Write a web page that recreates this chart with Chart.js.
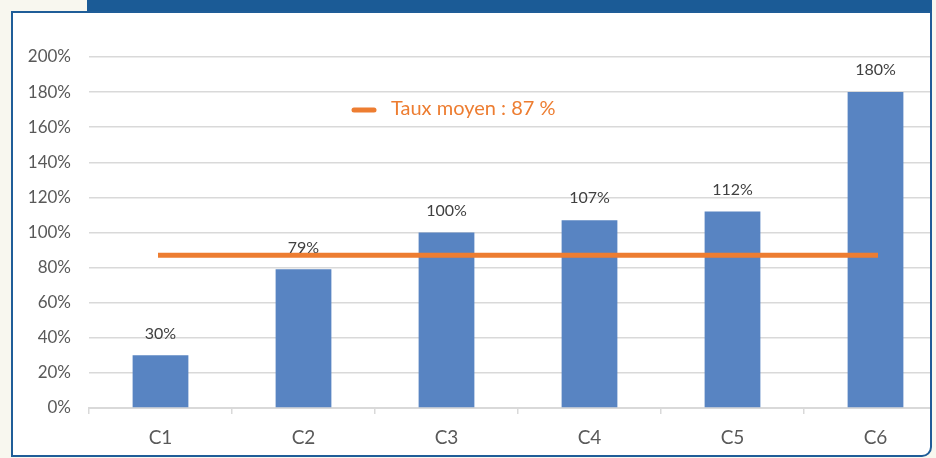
<!DOCTYPE html>
<html>
<head>
<meta charset="utf-8">
<script src="https://cdn.jsdelivr.net/npm/chart.js@4/dist/chart.umd.min.js"></script>
<style>
  html, body { margin: 0; padding: 0; width: 936px; height: 458px; overflow: hidden; background: #f8f7ef; }
  .band { position: absolute; left: 87px; top: 0; width: 845px; height: 13px; background: #1b5b96; }
  .frame {
    position: absolute; left: 11px; top: 11px; width: 917px; height: 442px;
    border: 2px solid #1f5d98; border-bottom-right-radius: 10px;
    background: #fff; overflow: hidden;
  }
  .frame canvas { position: absolute; left: -13px; top: -13px; }
</style>
</head>
<body>
<div class="band"></div>
<div class="frame">
  <canvas id="chart" width="980" height="470"></canvas>
</div>
<script>
// data
const categories = ['C1', 'C2', 'C3', 'C4', 'C5', 'C6'];
const rates = [30, 79, 100, 107, 112, 180];
const averageRate = [87, 87, 87, 87, 87, 87];
const averageLabel = 'Taux moyen : 87 %';
const yTicks = [0, 20, 40, 60, 80, 100, 120, 140, 160, 180, 200];

const FONT = 'Lato, "Open Sans", sans-serif';

// value labels above the bars
const barLabels = {
  id: 'barLabels',
  afterDatasetsDraw(chart) {
    const ctx = chart.ctx;
    const meta = chart.getDatasetMeta(0);
    ctx.save();
    ctx.font = '16px ' + FONT;
    ctx.fillStyle = '#404040';
    ctx.textAlign = 'center';
    ctx.textBaseline = 'middle';
    meta.data.forEach((bar, i) => {
      ctx.fillText(rates[i] + '%', bar.x, bar.y - 22);
    });
    ctx.restore();
  }
};

// legend for the average line, inside the plot
const avgLegend = {
  id: 'avgLegend',
  afterDraw(chart) {
    const ctx = chart.ctx;
    const ds = chart.data.datasets[1];
    ctx.save();
    ctx.strokeStyle = ds.borderColor;
    ctx.lineWidth = 5;
    ctx.lineCap = 'round';
    ctx.beginPath();
    ctx.moveTo(354, 110);
    ctx.lineTo(374, 110);
    ctx.stroke();
    ctx.font = '20px ' + FONT;
    ctx.fillStyle = ds.borderColor;
    ctx.textBaseline = 'middle';
    ctx.fillText(ds.label, 391, 109);
    ctx.restore();
  }
};

new Chart(document.getElementById('chart'), {
  type: 'bar',
  data: {
    labels: categories,
    datasets: [
      {
        label: 'Taux',
        data: rates,
        backgroundColor: '#5884c2',
        categoryPercentage: 1,
        barPercentage: 0.39,
        order: 2
      },
      {
        type: 'line',
        label: averageLabel,
        data: averageRate,
        borderColor: '#ed7d31',
        borderWidth: 5,
        pointRadius: 0,
        borderCapStyle: 'square',
        order: 1
      }
    ]
  },
  options: {
    responsive: false,
    animation: false,
    layout: { padding: { left: 0, right: 33, top: 57, bottom: 0 } },
    plugins: {
      legend: { display: false },
      tooltip: { enabled: false }
    },
    scales: {
      x: {
        afterFit(scale) { scale.height = 62; },
        grid: { drawOnChartArea: false, drawTicks: true, tickLength: 6, color: '#d9d9d9', lineWidth: 1.5 },
        border: { color: '#d9d9d9', width: 2 },
        ticks: { color: '#595959', font: { family: FONT, size: 19 }, padding: 12 }
      },
      y: {
        min: 0,
        max: 200,
        afterFit(scale) { scale.width = 89; },
        afterBuildTicks(scale) { scale.ticks = yTicks.map(v => ({ value: v })); },
        grid: { color: '#d9d9d9', lineWidth: 1.5, drawTicks: false },
        border: { display: false },
        ticks: {
          color: '#595959',
          font: { family: FONT, size: 17 },
          padding: 18,
          callback: v => v + '%'
        }
      }
    }
  },
  plugins: [barLabels, avgLegend]
});
</script>
</body>
</html>
